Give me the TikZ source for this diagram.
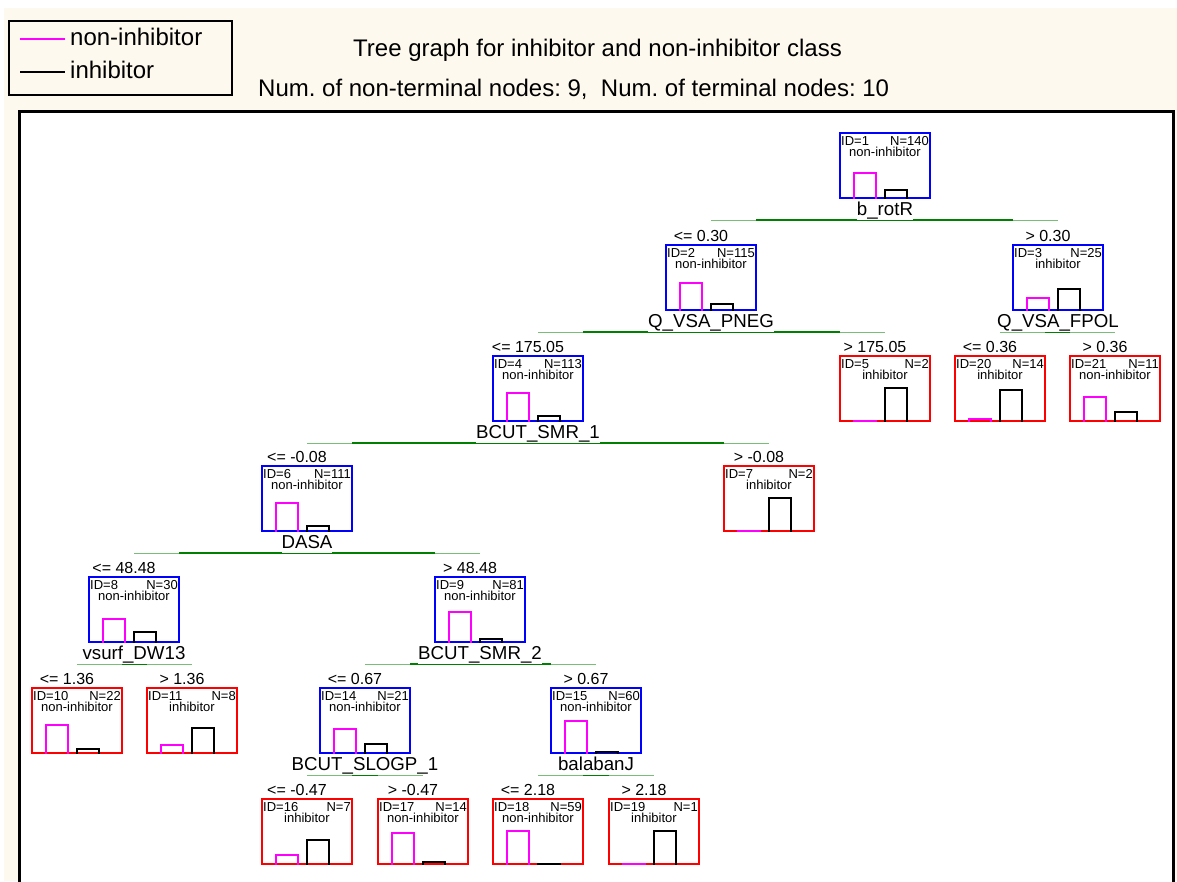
\documentclass[tikz,border=0pt]{standalone}
\usepackage{fontspec}
\setmainfont{Liberation Sans}
\usetikzlibrary{calc}
\definecolor{cream}{RGB}{254,249,238}
\definecolor{nodeblue}{RGB}{0,0,255}
\definecolor{leafred}{RGB}{255,0,0}
\definecolor{nonmag}{RGB}{255,0,255}
\definecolor{splitdark}{RGB}{0,128,0}
\definecolor{splitlight}{RGB}{120,190,120}
\newcommand\hdfont{\fontsize{24}{28}\selectfont}
\newcommand\splitfont{\fontsize{18.7}{22}\selectfont}
\newcommand\condfont{\fontsize{16}{19}\selectfont}
\newcommand\boxfont{\fontsize{13}{15}\selectfont}
\frenchspacing

\begin{document}
\begin{tikzpicture}[x=1pt, y=-1pt,
  tbox/.style={draw, line width=2.6pt, minimum width=90pt, minimum height=65pt,
    anchor=north, inner sep=0pt, outer sep=0pt},
  boxtxt/.style={font=\boxfont, inner sep=0pt},
  condtxt/.style={font=\condfont, inner sep=0pt, anchor=base},
  splitlbl/.style={font=\splitfont, fill=white, inner xsep=0pt, inner ysep=0pt,
    text height=14pt, text depth=5pt, anchor=south},
  magbar/.style={nonmag, line width=2pt},
  blkbar/.style={black, line width=2pt},
  thinsplit/.style={splitlight, line width=1pt},
  thicksplit/.style={splitdark, line width=2pt}]
  \useasboundingbox (0,0) rectangle (1177,881);
  % background and frame
  \fill[cream] (4,8) rectangle (1177,881);
  \fill[white] (19,111) rectangle (1173,881);
  \draw[line width=3pt] (19,884) -- (19,111) -- (1173,111) -- (1173,884);

  % legend and title
  \node[draw, line width=2pt, minimum width=223pt, minimum height=74pt,
    anchor=north west, inner sep=0pt] (legend) at (8,20) {};
  \draw[magbar] ($(legend.north west)+(12,19)$) -- ++(45,0);
  \draw[blkbar] ($(legend.north west)+(12,52)$) -- ++(45,0);
  \node[font=\hdfont, anchor=base west, inner sep=0pt] (lgnon) at ($(legend.north west)+(62,25)$) {non-inhibitor};
  \node[font=\hdfont, anchor=base west, inner sep=0pt] (lginh) at ($(legend.north west)+(62,58)$) {inhibitor};
  \node[font=\hdfont, anchor=base west, inner sep=0pt] (title) at (353,56)
    {Tree graph for inhibitor and non-inhibitor class};
  \node[font=\hdfont, anchor=base west, inner sep=0pt] (counts) at (258,96)
    {Num. of non-terminal nodes: 9,\ \ Num. of terminal nodes: 10};

  % tree nodes: name/x/top/colour/N/class/share of non-inhibitor
  \foreach \nm/\cx/\ty/\bc/\nn/\cls/\pn in {
      1/885/133/nodeblue/140/non-inhibitor/0.743,
      2/711/245/nodeblue/115/non-inhibitor/0.826,
      3/1058/245/nodeblue/25/inhibitor/0.36,
      4/538/356/nodeblue/113/non-inhibitor/0.84,
      5/885/356/leafred/2/inhibitor/0,
      20/1000/356/leafred/14/inhibitor/0.071,
      21/1115/356/leafred/11/non-inhibitor/0.727,
      6/307/466/nodeblue/111/non-inhibitor/0.856,
      7/769/466/leafred/2/inhibitor/0,
      8/134/577/nodeblue/30/non-inhibitor/0.7,
      9/480/577/nodeblue/81/non-inhibitor/0.914,
      10/77/688/leafred/22/non-inhibitor/0.864,
      11/192/688/leafred/8/inhibitor/0.25,
      14/365/688/nodeblue/21/non-inhibitor/0.714,
      15/596/688/nodeblue/60/non-inhibitor/0.983,
      16/307/799/leafred/7/inhibitor/0.286,
      17/423/799/leafred/14/non-inhibitor/0.929,
      18/538/799/leafred/59/non-inhibitor/1,
      19/654/799/leafred/1/inhibitor/0} {
    \node[tbox, draw=\bc] (n\nm) at (\cx,\ty) {};
    \node[boxtxt, anchor=base west] at ($(n\nm.north west)+(1,12)$) {ID=\nm};
    \node[boxtxt, anchor=base east] at ($(n\nm.north east)+(-1,12)$) {N=\nn};
    \node[boxtxt, anchor=base] at ($(n\nm.north)+(0,23)$) {\cls};
    \pgfmathsetmacro\hm{33*\pn+1.2}
    \pgfmathsetmacro\hb{34.2-33*\pn}
    \draw[magbar] ($(n\nm.south)+(-31,1.2)$) -- ++(0,-\hm) -- ++(22,0) -- ++(0,\hm);
    \draw[blkbar] ($(n\nm.south)+(0,1.2)$) -- ++(0,-\hb) -- ++(22,0) -- ++(0,\hb);
  }

  % split conditions above the child nodes
  \foreach \nm/\cond in {2/{<= 0.30}, 3/{> 0.30}, 4/{<= 175.05}, 5/{> 175.05},
      20/{<= 0.36}, 21/{> 0.36}, 6/{<= -0.08}, 7/{> -0.08}, 8/{<= 48.48},
      9/{> 48.48}, 10/{<= 1.36}, 11/{> 1.36}, 14/{<= 0.67}, 15/{> 0.67},
      16/{<= -0.47}, 17/{> -0.47}, 18/{<= 2.18}, 19/{> 2.18}}
    \node[condtxt] at ($(n\nm.north)+(-10,-4)$) {\cond};

  % split lines with the splitting variable
  \foreach \pa/\lc/\rc/\lbl in {1/2/3/b\_rotR, 2/4/5/Q\_VSA\_PNEG,
      3/20/21/Q\_VSA\_FPOL, 4/6/7/BCUT\_SMR\_1, 6/8/9/DASA,
      8/10/11/vsurf\_DW13, 9/14/15/BCUT\_SMR\_2, 14/16/17/BCUT\_SLOGP\_1,
      15/18/19/balabanJ} {
    \coordinate (s\pa) at ($(n\pa.south)+(0,22)$);
    \draw[thinsplit] (n\lc |- s\pa) -- (n\rc |- s\pa);
    \draw[thicksplit] (n\lc.east |- s\pa) -- (n\rc.west |- s\pa);
    \node[splitlbl] (l\pa) at ($(s\pa)+(0,0.4)$) {\lbl};
  }
\end{tikzpicture}
\end{document}
